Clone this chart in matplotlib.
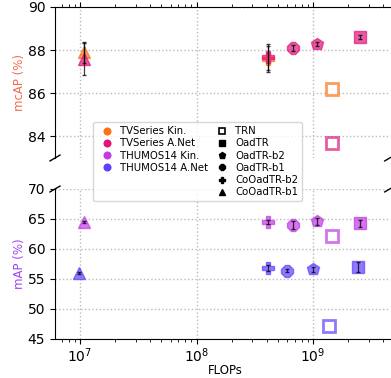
import matplotlib
matplotlib.use("Agg")
import matplotlib.pyplot as plt
from matplotlib.lines import Line2D
import numpy as np

# model names, markers and FLOPs
models = ["TRN", "OadTR", "OadTR-b2", "OadTR-b1", "CoOadTR-b2", "CoOadTR-b1"]
markers = ["s", "s", "p", "8", "P", "^"]
flops_tvs = [1.46e9, 2.5e9, 1.07e9, 6.7e8, 4.1e8, 1.08e7]
flops_th_kin = [1.46e9, 2.5e9, 1.07e9, 6.7e8, 4.1e8, 1.08e7]
flops_th_anet = [1.38e9, 2.45e9, 1.0e9, 6.0e8, 4.1e8, 0.98e7]

# TVSeries mcAP (%)
tvs_kin = [86.2, np.nan, np.nan, np.nan, 87.6, 87.9]
tvs_kin_err = [0, 0, 0, 0, 0.6, 0.5]
tvs_anet = [83.7, 88.6, 88.3, 88.1, 87.7, 87.6]
tvs_anet_err = [0, 0.1, 0.1, 0.15, 0.6, 0.75]

# THUMOS14 mAP (%)
th_kin = [62.1, 64.3, 64.6, 64.0, 64.5, 64.5]
th_kin_err = [0, 0.6, 0.6, 0.6, 0.3, 0.2]
th_anet = [47.2, 57.0, 56.6, 56.4, 56.9, 56.0]
th_anet_err = [0, 0.8, 0.4, 0.3, 0.5, 0.2]

c_tvs_kin = "#f97316"
c_tvs_anet = "#e0157a"
c_th_kin = "#c23be6"
c_th_anet = "#6040ff"

fig = plt.figure(figsize=(3.91, 3.78), dpi=100)
ax1 = fig.add_axes([0.1407, 0.582, 0.856, 0.3995])
ax2 = fig.add_axes([0.1407, 0.1032, 0.856, 0.3968], sharex=ax1)


def draw(ax, xs, ys, errs, color):
    for x, y, e, m, name in zip(xs, ys, errs, markers, models):
        if np.isnan(y):
            continue
        if name == "TRN":
            ax.plot(x, y, marker=m, ms=9, mfc="white", mec=color, mew=2, alpha=0.7, ls="none", zorder=3)
        else:
            ax.plot(x, y, marker=m, ms=9, color=color, alpha=0.7, ls="none", zorder=3)
            if e > 0:
                ax.errorbar(x, y, yerr=e, fmt="none", ecolor="black", elinewidth=0.9, capsize=1.5, alpha=0.75, zorder=4)


draw(ax1, flops_tvs, tvs_kin, tvs_kin_err, c_tvs_kin)
draw(ax1, flops_tvs, tvs_anet, tvs_anet_err, c_tvs_anet)
draw(ax2, flops_th_kin, th_kin, th_kin_err, c_th_kin)
draw(ax2, flops_th_anet, th_anet, th_anet_err, c_th_anet)

ax1.set_xscale("log")
ax1.set_xlim(6.11e6, 4.54e9)
ax1.set_ylim(83, 90)
ax1.set_yticks([84, 86, 88, 90])
ax2.set_ylim(45, 70)
ax2.set_yticks([45, 50, 55, 60, 65, 70])

for ax in (ax1, ax2):
    ax.grid(True, ls=":", color="#bbbbbb", lw=1)
    ax.spines["right"].set_visible(False)
    ax.tick_params(labelsize=10)

ax1.spines["bottom"].set_visible(False)
ax2.spines["top"].set_visible(False)
ax1.xaxis.tick_top()
ax1.tick_params(axis="x", which="both", labeltop=False)
ax2.xaxis.tick_bottom()
ax2.tick_params(axis="x", pad=2)

# break marks
d = 0.015
kw = dict(color="k", clip_on=False, lw=1)
ax1.plot((-d, +d), (-d * 1.3, +d * 1.3), transform=ax1.transAxes, **kw)
ax1.plot((1 - d, 1 + d), (-d * 1.3, +d * 1.3), transform=ax1.transAxes, **kw)
ax2.plot((-d, +d), (1 - d * 1.3, 1 + d * 1.3), transform=ax2.transAxes, **kw)
ax2.plot((1 - d, 1 + d), (1 - d * 1.3, 1 + d * 1.3), transform=ax2.transAxes, **kw)

ax1.set_ylabel("mcAP (%)", color="#f46a4e", fontsize=8.5, labelpad=1)
ax2.set_ylabel("mAP (%)", color="#a045f2", fontsize=8.5, labelpad=1)
ax2.set_xlabel("FLOPs", fontsize=8.5)
ax2.xaxis.set_label_coords(0.51, -0.17)

# legend
blank = Line2D([], [], ls="none", marker="")
handles = [
    Line2D([], [], ls="none", marker="o", color=c_tvs_kin),
    Line2D([], [], ls="none", marker="o", color=c_tvs_anet),
    Line2D([], [], ls="none", marker="o", color=c_th_kin),
    Line2D([], [], ls="none", marker="o", color=c_th_anet),
    blank, blank,
]
labels = ["TVSeries Kin.", "TVSeries A.Net", "THUMOS14 Kin.", "THUMOS14 A.Net", "", ""]
for m, name in zip(markers, models):
    if name == "TRN":
        handles.append(Line2D([], [], ls="none", marker=m, mfc="white", mec="black", mew=1.2))
    else:
        handles.append(Line2D([], [], ls="none", marker=m, color="black"))
    labels.append(name)

fig.legend(handles, labels, ncol=2, loc="upper left", bbox_to_anchor=(0.238, 0.677),
           borderaxespad=0, fontsize=7.3, handletextpad=0.3, columnspacing=0.3,
           labelspacing=0.22, markerscale=0.8)

fig.savefig("out.png", dpi=100)
